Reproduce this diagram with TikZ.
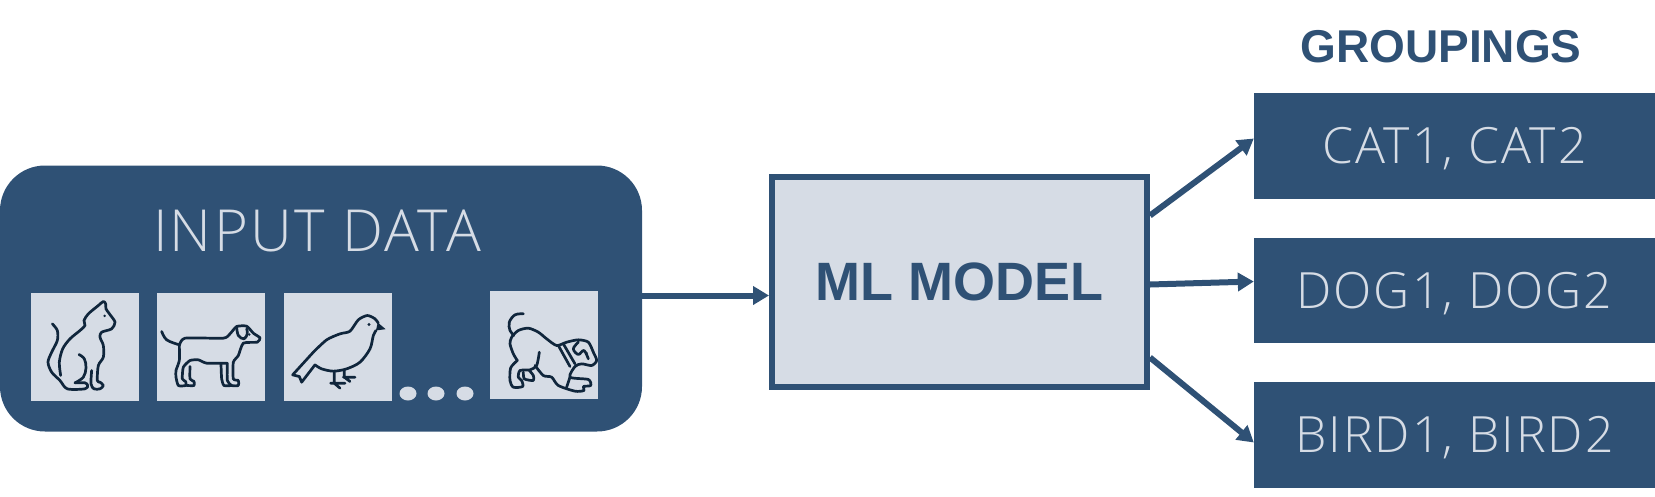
\documentclass[tikz,border=0pt]{standalone}
\usepackage{fontspec}
\setmainfont{Liberation Sans}
\newfontfamily\lightfont{Open Sans Light}[LetterSpace=4]
\usetikzlibrary{arrows.meta,shapes.geometric}
\definecolor{navy}{HTML}{2F5175}
\definecolor{pale}{HTML}{D6DCE5}
\definecolor{ink}{HTML}{10263C}
\tikzset{
  x=1pt,y=-1pt,
  flow/.style={draw=navy,line width=6pt,-{Triangle[length=16pt,width=18pt]}},
  panel/.style={fill=navy,rounded corners=45pt,minimum width=642pt,minimum height=266pt,inner sep=0pt},
  iconbox/.style={fill=pale,minimum width=108pt,minimum height=108pt,inner sep=0pt},
  dotmark/.style={fill=pale,ellipse,minimum width=17pt,minimum height=14pt,inner sep=0pt},
  group/.style={fill=navy,text=pale,inner sep=0pt,text depth=0pt,font=\lightfont\fontsize{50}{50}\selectfont},
  model/.style={draw=navy,fill=pale,line width=6pt,minimum width=375pt,minimum height=210pt,inner sep=0pt,text=navy,font=\bfseries\fontsize{54}{54}\selectfont},
  glyph/.style={draw=ink,line width=2.7pt,line cap=round,line join=round},
}
\begin{document}
\begin{tikzpicture}
\useasboundingbox (0,0) rectangle (1655,496);
\node[panel] (input) at (321,298.5) {};
\node[font=\lightfont\fontsize{58}{58}\selectfont,text=pale] (inputlabel) at (317,230.5) {INPUT DATA};
\node[iconbox] (i1) at (85,346.5) {};
\node[iconbox] (i2) at (211,346.5) {};
\node[iconbox] (i3) at (338,346.5) {};
\node[iconbox] (i4) at (544,345) {};
\node[dotmark] (d1) at (408,393.5) {};
\node[dotmark] (d2) at (436,393.5) {};
\node[dotmark] (d3) at (465,393.5) {};
\node[model] (ml) at (959.5,281.5) {ML MODEL};
\node[text=navy,font=\bfseries\fontsize{46}{46}\selectfont] (title) at (1441,46.5) {GROUPINGS};
\node[group,minimum width=401pt,minimum height=106pt] (cat) at (1454.5,145.5) {CAT1, CAT2};
\node[group,minimum width=401pt,minimum height=105pt] (dog) at (1454.5,290) {DOG1, DOG2};
\node[group,minimum width=401pt,minimum height=106pt] (bird) at (1454.5,434.5) {BIRD1, BIRD2};
\coordinate (s0) at (input.east |- 0,295.5);
\coordinate (e0) at (ml.west |- 0,295.5);
\coordinate (s1) at (1150,215.5);
\coordinate (e1) at (cat.west |- 0,138.5);
\coordinate (s2) at (1150,284.5);
\coordinate (e2) at (dog.west |- 0,281.5);
\coordinate (s3) at (1150,357.5);
\coordinate (e3) at (bird.west |- 0,442.5);
\draw[flow] (s0) -- (e0);
\draw[flow] (s1) -- (e1);
\draw[flow] (s2) -- (e2);
\draw[flow] (s3) -- (e3);
% icons, in zoom coordinates
\begin{scope}[shift={(20,280.5)},x=0.33333pt,y=-0.33333pt]
\draw[glyph] plot[smooth,tension=.5] coordinates {(97,130)(112,150)(112,180)(95,215)(84,245)(95,275)(120,300)(142,325)(195,325)(203,315)(195,307)(165,307)};
\draw[glyph] plot[smooth,tension=.6] coordinates {(177,222)(193,235)(198,262)(190,290)(165,307)};
\draw[glyph] plot[smooth,tension=.5] coordinates {(122,285)(118,245)(128,205)(150,175)(180,150)(195,135)(192,120)(205,100)(235,75)(250,63)(257,70)(258,85)(272,105)(285,125)(275,145)(245,155)(240,170)(250,195)(250,230)(235,255)(232,300)(240,305)(250,315)(240,325)(222,325)(213,310)(215,270)};
\fill[ink] (254,106) circle[radius=4];
\draw[glyph] plot[smooth,tension=.6] coordinates {(425,153)(440,178)(475,192)};
\draw[glyph] plot[smooth,tension=.35] coordinates {(478,195)(495,173)(610,173)(630,160)(650,138)(680,137)(700,158)(720,172)(712,185)(670,188)(655,225)(640,245)(640,295)(655,300)(655,315)(635,315)(622,300)(622,250)};
\draw[glyph] plot[smooth,tension=.35] coordinates {(622,248)(560,248)(535,238)(510,240)(490,260)(487,295)(497,303)(497,315)(475,315)(468,290)(468,270)(478,240)(478,195)};
\draw[glyph] plot[smooth,tension=.35] coordinates {(510,258)(510,295)(522,303)(522,315)(500,315)};
\draw[glyph] plot[smooth,tension=.35] coordinates {(603,250)(605,295)(612,315)(635,315)};
\draw[glyph] plot[smooth,tension=.6] coordinates {(650,140)(655,165)(672,175)(682,160)(680,145)};
\fill[ink] (688,162) circle[radius=4];
\end{scope}
\begin{scope}[shift={(280,280.5)},x=0.33333pt,y=-0.33333pt]
\draw[glyph] plot[smooth,tension=.45] coordinates {(100,215)(140,178)(180,160)(210,152)(235,118)(262,105)(285,115)(295,128)};
\draw[glyph] plot[smooth,tension=.5] coordinates {(288,150)(280,165)(270,205)(240,245)(200,265)(160,272)(125,265)(105,253)};
\draw[glyph] (105,253) -- (65,305) -- (58,288) -- (38,283) -- (100,215);
\fill[ink] (293,126) -- (317,146) -- (288,150) -- cycle;
\fill[ink] (267,132) circle[radius=5];
\draw[glyph] (163,272) -- (163,310) (152,308) -- (195,308) (165,310) -- (180,323);
\draw[glyph] (193,268) -- (193,290) -- (210,303) (190,290) -- (225,290);
\draw[glyph] plot[smooth,tension=.6] coordinates {(730,100)(705,103)(688,125)(690,150)(702,165)};
\draw[glyph] plot[smooth,tension=.45] coordinates {(712,240)(700,220)(690,190)(695,170)(715,150)(745,143)(775,155)(800,175)(830,195)(860,185)(895,178)(925,185)(940,215)(950,240)(935,255)(905,250)(885,258)(870,290)(925,297)(932,315)(910,318)(912,330)(885,332)(835,315)(815,290)(790,285)(765,255)};
\draw[glyph] plot[smooth,tension=.45] coordinates {(712,240)(692,262)(690,300)(700,320)(728,318)(725,300)(715,290)(720,270)(750,268)(770,255)(778,215)};
\draw[glyph] plot[smooth,tension=.4] coordinates {(730,275)(733,295)(760,300)(760,285)(748,270)};
\draw[glyph] (835,195) -- (870,258) (850,190) -- (885,250) (870,290) -- (860,320);
\draw[glyph] plot[smooth,tension=.6] coordinates {(895,185)(880,205)(895,222)(912,210)(925,235)};
\fill[ink] (920,218) circle[radius=4];
\end{scope}
\end{tikzpicture}
\end{document}
